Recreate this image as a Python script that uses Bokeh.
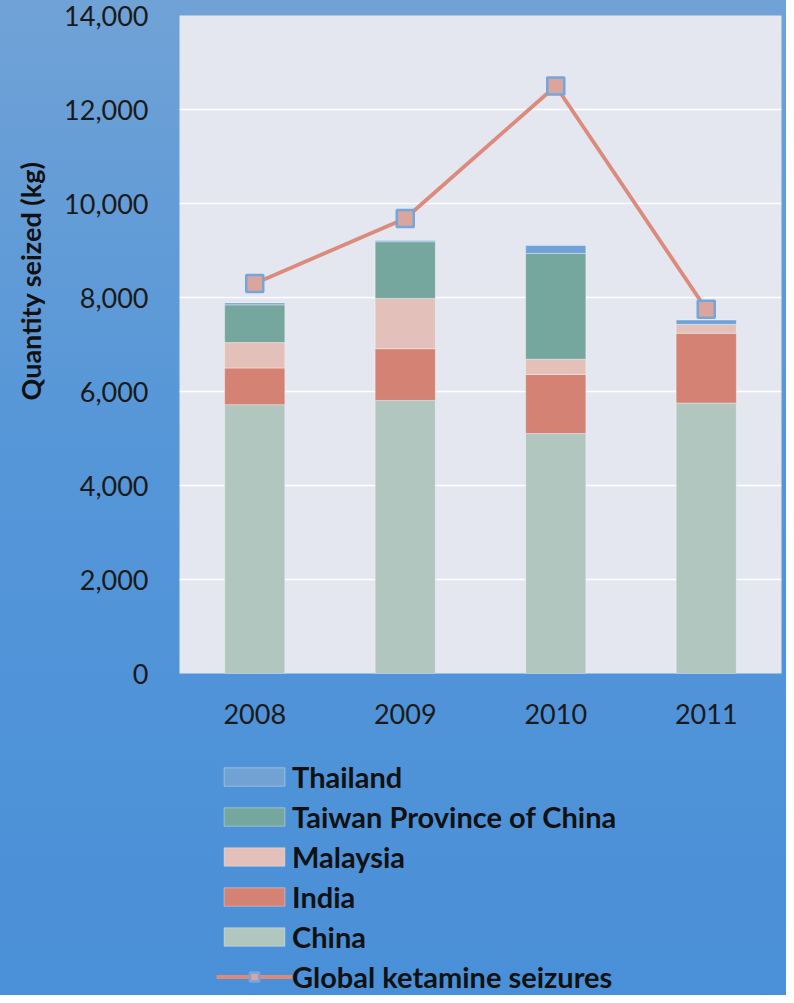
from bokeh.plotting import figure
from bokeh.layouts import column
from bokeh.models import (ColumnDataSource, FactorRange, Range1d, Legend, LegendItem,
                          NumeralTickFormatter, Title, FixedTicker)
from bokeh.embed import file_html
from bokeh.resources import INLINE

years = ["2008", "2009", "2010", "2011"]
china = [5720, 5810, 5105, 5755]
india = [780, 1100, 1257, 1483]
malaysia = [540, 1070, 325, 190]
taiwan = [805, 1207, 2250, 0]
thailand = [40, 28, 170, 92]
global_seizures = [8300, 9680, 12500, 7750]

series_names = ["China", "India", "Malaysia", "Taiwan Province of China", "Thailand"]
series_keys = ["china", "india", "malaysia", "taiwan", "thailand"]
series_colors = ["#b2c6c0", "#d48274", "#e3c0b9", "#76a79e", "#72a2d4"]
line_color = "#dc8a7c"
marker_fill = "#d9a59c"
marker_edge = "#74a6dc"

source = ColumnDataSource(dict(year=years, china=china, india=india, malaysia=malaysia,
                               taiwan=taiwan, thailand=thailand, total=global_seizures))

FONT = "Lato"
W = 786
H_TOP = 752
H_BOTTOM = 995 - H_TOP


def draw_series(fig):
    bars = fig.vbar_stack(series_keys, x="year", width=0.4, color=series_colors, source=source,
                          line_color="white", line_alpha=0.35, line_width=1)
    ln = fig.line(x="year", y="total", source=source, line_color=line_color, line_width=3.8)
    mk = fig.scatter(x="year", y="total", source=source, marker="square", size=17,
                     fill_color=marker_fill, line_color=marker_edge, line_width=2.5)
    return bars, ln, mk


p = figure(width=W, height=H_TOP, x_range=FactorRange(factors=years, range_padding=0),
           y_range=Range1d(0, 14000), output_backend="svg", toolbar_location=None,
           min_border_left=179, min_border_right=5, min_border_top=15,
           min_border_bottom=H_TOP - 673)
p.border_fill_color = None
p.background_fill_color = "#e4e7f0"
p.outline_line_color = None

draw_series(p)

p.xgrid.grid_line_color = None
p.ygrid.grid_line_color = "white"
p.ygrid.grid_line_width = 1.5
p.yaxis.ticker = FixedTicker(ticks=list(range(0, 14001, 2000)))
p.yaxis.formatter = NumeralTickFormatter(format="0,0")

for ax in (p.xaxis[0], p.yaxis[0]):
    ax.axis_line_color = None
    ax.major_tick_line_color = None
    ax.minor_tick_line_color = None
    ax.major_label_text_font = FONT
    ax.major_label_text_font_size = "27px"
    ax.major_label_text_color = "#1a1a1a"
p.yaxis.major_label_standoff = 25
p.xaxis.major_label_standoff = 24

ytitle = Title(text="Quantity seized (kg)", align="right", vertical_align="top",
               offset=146, standoff=26,
               text_font=FONT, text_font_size="27px", text_font_style="bold",
               text_color="#111111")
p.add_layout(ytitle, "left")

# legend figure (its series lie outside its visible range; only the legend shows)
q = figure(width=W, height=H_BOTTOM, x_range=FactorRange(factors=years, range_padding=0),
           y_range=Range1d(50000, 50001), output_backend="svg", toolbar_location=None,
           x_axis_type=None, y_axis_type=None, min_border=0)
q.border_fill_color = None
q.background_fill_color = None
q.outline_line_color = None
q.grid.visible = False

lbars, lline, lmark = draw_series(q)

order = [4, 3, 2, 1, 0]
items = [LegendItem(label=series_names[i], renderers=[lbars[i]]) for i in order]
items.append(LegendItem(label="Global ketamine seizures", renderers=[lline, lmark]))
legend = Legend(items=items, location=(37, 1.5), orientation="vertical",
                glyph_width=76, glyph_height=23, label_height=18, spacing=5,
                label_standoff=0, padding=0, margin=0,
                label_text_font=FONT, label_text_font_size="29px",
                label_text_font_style="bold", label_text_color="#111111",
                background_fill_alpha=0, border_line_alpha=0)
q.add_layout(legend, "center")

layout = column(p, q, spacing=0)
layout.styles = {"background-image": "linear-gradient(180deg, #70a2d6 0%, #5596d8 45%, #4a90d8 100%)"}

open("out.html", "w").write(file_html(layout, INLINE))
